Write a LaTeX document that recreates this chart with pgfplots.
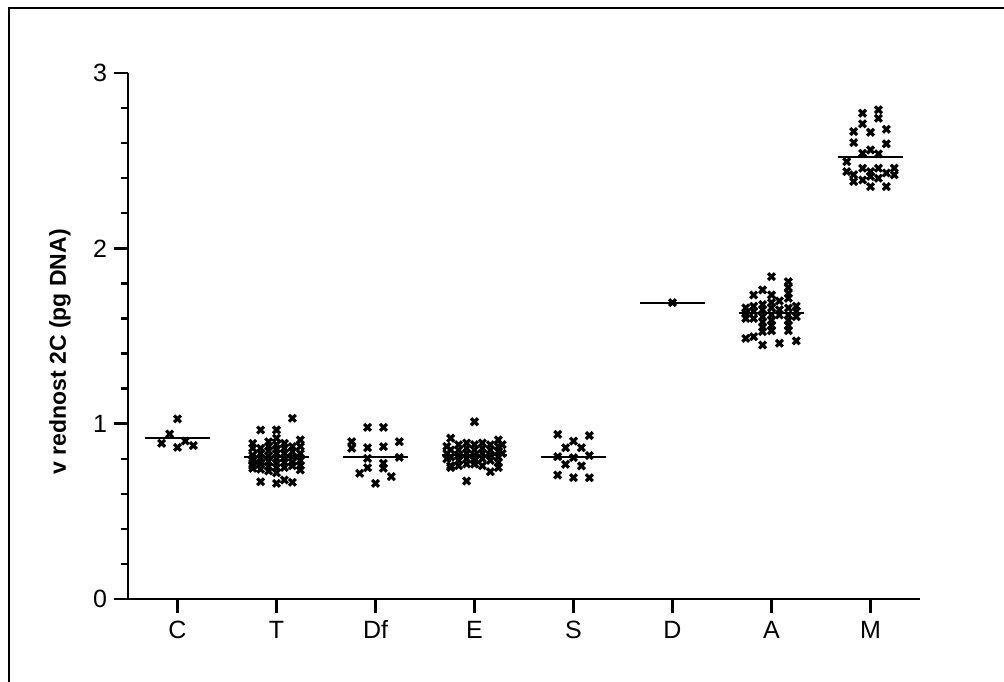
\documentclass[border=0pt]{standalone}
\usepackage{pgfplots}
\pgfplotsset{compat=1.18}
\usepackage{fontspec}
\setmainfont{Liberation Sans}
\begin{document}
\begin{tikzpicture}
\useasboundingbox (0,0) rectangle (502pt,-340.5pt);
\draw[line width=1pt] (4.5pt,-4pt) rectangle (530pt,-370pt);
\begin{axis}[
  at={(64pt,-299.5pt)}, anchor=south west,
  scale only axis, width=396pt, height=263pt,
  xmin=-0.5, xmax=7.5, ymin=0, ymax=3,
  axis lines=left,
  axis line style={-, line width=1.2pt},
  xtick={0,...,7}, xticklabels={C,T,Df,E,S,D,A,M},
  ytick={0,1,2,3}, minor y tick num=4,
  tick align=outside,
  major tick length=7pt, minor tick length=3.5pt,
  every tick/.style={line width=1.2pt, black},
  /pgf/number format/assume math mode=true,
  tick label style={font=\fontsize{12.5}{14}\selectfont},
  xticklabel style={text height=9.3pt, text depth=0pt},
  every axis y label/.style={at={(axis description cs:-0.086,0.47)}, rotate=90, anchor=center, font=\bfseries\fontsize{11.5}{14}\selectfont},
  ylabel={v rednost 2C (pg DNA)},
  clip=false,
  mymark/.style={only marks, mark=x, mark size=2.4pt, mark options={line width=1.6pt, black}},
]
% points
\addplot[mymark] coordinates {
(0,1.027)(-0.08,0.941)(-0.16,0.888)(0,0.865)(0.08,0.901)(0.16,0.875)
};
\addplot[mymark] coordinates {
(0.76,0.888)(0.76,0.860)(0.76,0.820)(0.76,0.790)(0.76,0.760)(0.76,0.745)(0.76,0.800)
(0.84,0.964)(0.84,0.860)(0.84,0.830)(0.84,0.800)(0.84,0.770)(0.84,0.740)(0.84,0.669)(0.84,0.780)
(0.92,0.897)(0.92,0.870)(0.92,0.845)(0.92,0.815)(0.92,0.785)(0.92,0.755)(0.92,0.730)
(1,0.964)(1,0.917)(1,0.880)(1,0.855)(1,0.830)(1,0.800)(1,0.775)(1,0.750)(1,0.720)(1,0.660)
(1.08,0.888)(1.08,0.860)(1.08,0.830)(1.08,0.805)(1.08,0.780)(1.08,0.750)(1.08,0.679)
(1.16,1.031)(1.16,0.870)(1.16,0.840)(1.16,0.810)(1.16,0.780)(1.16,0.760)(1.16,0.666)
(1.24,0.907)(1.24,0.870)(1.24,0.830)(1.24,0.790)(1.24,0.760)(1.24,0.736)
};
\addplot[mymark] coordinates {
(1.92,0.979)(2.08,0.979)(1.76,0.897)(1.76,0.860)(1.92,0.863)(2.08,0.869)(2.24,0.897)(2.24,0.808)
(1.92,0.802)(1.92,0.749)(1.84,0.717)(2.08,0.774)(2.08,0.746)(2,0.660)(2.16,0.698)
};
\addplot[mymark] coordinates {
(2.72,0.870)(2.72,0.830)(2.72,0.800)
(2.76,0.917)(2.76,0.850)(2.76,0.810)(2.76,0.760)(2.76,0.750)
(2.84,0.880)(2.84,0.850)(2.84,0.820)(2.84,0.790)(2.84,0.760)
(2.92,0.890)(2.92,0.860)(2.92,0.830)(2.92,0.800)(2.92,0.770)(2.92,0.673)
(3,1.011)(3,0.880)(3,0.850)(3,0.820)(3,0.790)(3,0.770)
(3.08,0.890)(3.08,0.860)(3.08,0.830)(3.08,0.800)(3.08,0.760)
(3.16,0.880)(3.16,0.850)(3.16,0.820)(3.16,0.790)(3.16,0.726)
(3.24,0.907)(3.24,0.870)(3.24,0.840)(3.24,0.810)(3.24,0.780)(3.24,0.750)
(3.28,0.880)(3.28,0.830)
};
\addplot[mymark] coordinates {
(3.84,0.939)(4.16,0.932)(4,0.901)(3.92,0.863)(4.08,0.863)(3.84,0.812)(4,0.806)(4.16,0.818)
(3.92,0.768)(4.08,0.759)(3.84,0.707)(4,0.692)(4.16,0.692)
};
\addplot[mymark] coordinates {
(5,1.690)
};
\addplot[mymark] coordinates {
(6,1.839)(6,1.734)(6,1.690)(6,1.660)(6,1.620)(6,1.590)(6,1.560)(6,1.530)
(6.17,1.810)(6.17,1.776)(6.17,1.744)(6.17,1.715)(6.17,1.660)(6.17,1.620)(6.17,1.590)(6.17,1.560)(6.17,1.530)
(5.91,1.763)(5.91,1.680)(5.91,1.650)(5.91,1.610)(5.91,1.580)(5.91,1.550)(5.91,1.525)(5.91,1.449)
(5.82,1.734)(5.82,1.670)(5.82,1.640)(5.82,1.600)(5.82,1.496)
(5.74,1.660)(5.74,1.630)(5.74,1.600)(5.74,1.487)
(6.08,1.700)(6.08,1.650)(6.08,1.620)(6.08,1.459)
(6.25,1.670)(6.25,1.640)(6.25,1.610)(6.25,1.472)
};
\addplot[mymark] coordinates {
(6.76,2.495)(6.76,2.438)
(6.83,2.666)(6.83,2.603)(6.83,2.381)(6.83,2.420)
(6.92,2.771)(6.92,2.710)(6.92,2.542)(6.92,2.457)(6.92,2.390)
(7,2.662)(7,2.561)(7,2.438)(7,2.352)(7,2.410)
(7.08,2.790)(7.08,2.742)(7.08,2.539)(7.08,2.457)(7.08,2.400)
(7.16,2.679)(7.16,2.596)(7.16,2.352)(7.16,2.430)
(7.24,2.457)(7.24,2.419)
};
% mean lines
\addplot[black, line width=1.1pt] coordinates {(-0.33,0.918)(0.33,0.918)};
\addplot[black, line width=1.1pt] coordinates {(0.67,0.812)(1.33,0.812)};
\addplot[black, line width=1.1pt] coordinates {(1.67,0.812)(2.33,0.812)};
\addplot[black, line width=1.1pt] coordinates {(2.67,0.821)(3.33,0.821)};
\addplot[black, line width=1.1pt] coordinates {(3.67,0.812)(4.33,0.812)};
\addplot[black, line width=1.1pt] coordinates {(4.67,1.690)(5.33,1.690)};
\addplot[black, line width=1.1pt] coordinates {(5.67,1.630)(6.33,1.630)};
\addplot[black, line width=1.1pt] coordinates {(6.67,2.522)(7.33,2.522)};
\end{axis}
\end{tikzpicture}
\end{document}
